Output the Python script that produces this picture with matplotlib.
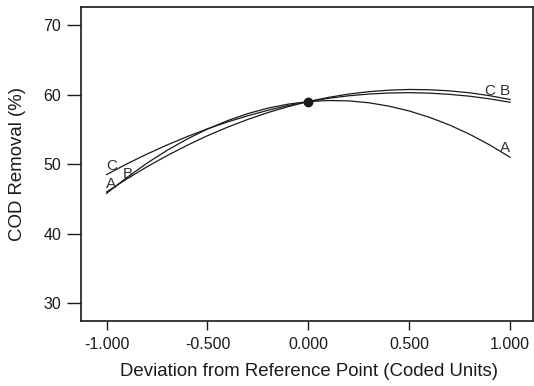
import matplotlib
matplotlib.use("Agg")
import matplotlib.pyplot as plt

plt.rcParams['font.family'] = ['Liberation Sans', 'DejaVu Sans']

# Deviation from reference point (coded units)
x_dev = [-1.0, -0.9, -0.8, -0.7, -0.6, -0.5, -0.4, -0.3, -0.2, -0.1, 0.0,
         0.1, 0.2, 0.3, 0.4, 0.5, 0.6, 0.7, 0.8, 0.9, 1.0]

# COD removal (%) for each factor
cod_A = [45.80, 48.07, 50.14, 51.99, 53.62, 55.05, 56.26, 57.27, 58.06, 58.63, 59.00,
         59.15, 59.10, 58.83, 58.34, 57.65, 56.74, 55.63, 54.30, 52.75, 51.00]
cod_B = [46.00, 47.87, 49.62, 51.23, 52.72, 54.09, 55.32, 56.43, 57.42, 58.27, 59.00,
         59.60, 60.08, 60.42, 60.64, 60.74, 60.70, 60.54, 60.26, 59.84, 59.30]
cod_C = [48.50, 50.03, 51.45, 52.76, 53.97, 55.08, 56.07, 56.96, 57.75, 58.43, 59.00,
         59.47, 59.83, 60.08, 60.23, 60.28, 60.21, 60.04, 59.77, 59.39, 58.90]

ref_point = (0.0, 59.0)

# Curve labels: (text, x, y)
curve_labels = [("C", -0.975, 49.8), ("A", -0.979, 47.1), ("B", -0.893, 48.55),
                ("C", 0.90, 60.5), ("B", 0.974, 60.5), ("A", 0.977, 52.3)]

x_ticks = [-1.0, -0.5, 0.0, 0.5, 1.0]
x_ticklabels = ["-1.000", "-0.500", "0.000", "0.500", "1.000"]
y_ticks = [30, 40, 50, 60, 70]

ink = "#1a1a1a"

fig = plt.figure(figsize=(5.34, 3.86), dpi=100)
ax = fig.add_axes([81/534, 1 - 321.3/386, (533 - 81)/534, (321.3 - 7)/386])

for ys in (cod_A, cod_B, cod_C):
    ax.plot(x_dev, ys, color=ink, lw=0.9)

ax.plot([ref_point[0]], [ref_point[1]], 'o', color=ink, ms=6)

for t, xx, yy in curve_labels:
    ax.text(xx, yy, t, ha="center", va="center", fontsize=11, color="#333333")

ax.set_xlim(-1.127, 1.114)
ax.set_ylim(27.4, 72.6)
ax.set_xticks(x_ticks)
ax.set_xticklabels(x_ticklabels)
ax.set_yticks(y_ticks)

ax.tick_params(axis='y', direction='out', length=9.9, width=1.0, pad=4.5, labelsize=11.5, colors=ink)
ax.tick_params(axis='x', direction='out', length=6.7, width=1.0, pad=4.5, labelsize=11.5, colors=ink)
for s in ax.spines.values():
    s.set_linewidth(1.2)
    s.set_color(ink)

ax.set_xlabel("Deviation from Reference Point (Coded Units)", fontsize=13.4, color=ink)
ax.set_ylabel("COD Removal (%)", fontsize=13.4, color=ink)
ax.xaxis.set_label_coords((309 - 81) / 452, -(371.7 - 321.3) / 314.3)
ax.yaxis.set_label_coords(-(81 - 17.7) / 452, (321.3 - 164) / 314.3)
ax.xaxis.label.set_va("center")
ax.yaxis.label.set_va("center")

fig.savefig("out.png", dpi=100)
